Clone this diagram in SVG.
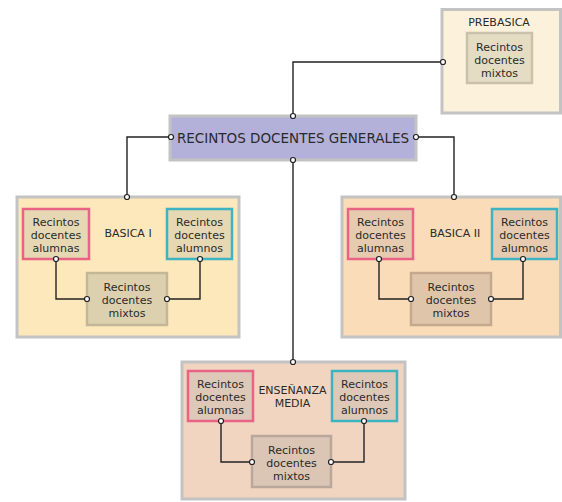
<svg xmlns="http://www.w3.org/2000/svg" width="562" height="502" viewBox="0 0 562 502">
<style>
text{font-family:"DejaVu Sans","Verdana",sans-serif;fill:#2a2a2a;text-anchor:middle}
.t11{font-size:11px}
.t13{font-size:13.5px}
.outer{stroke:#c3c3c3;stroke-width:3}
.ln{fill:none;stroke:#222;stroke-width:1.4}
.dot{fill:#fff;stroke:#222;stroke-width:1.2}
.pink{stroke:#e86384;stroke-width:2.5}
.teal{stroke:#3fb3c2;stroke-width:2.5}
</style>
<rect width="562" height="502" fill="#fff"/>

<g id="prebasica">
<rect x="442" y="9.5" width="118.5" height="103.5" fill="#fcf2dc" class="outer"/>
<text x="499" y="26" class="t11">PREBASICA</text>
<rect x="467" y="33" width="65" height="50" fill="#e5dcc4" stroke="#c9c1aa" stroke-width="2.5"/>
<text x="499.5" y="51" class="t11">Recintos</text>
<text x="499.5" y="64" class="t11">docentes</text>
<text x="499.5" y="77" class="t11">mixtos</text>
</g>

<g id="generales">
<rect x="170" y="116" width="246" height="44" fill="#b3b0d9" class="outer"/>
<text x="293" y="142.5" class="t13">RECINTOS DOCENTES GENERALES</text>
</g>

<g id="basica1">
<rect x="17" y="197" width="222" height="140" fill="#fde8bb" class="outer"/>
<text x="128" y="237" class="t11">BASICA I</text>
<rect x="23" y="209" width="66" height="50" fill="#e6d8b3" class="pink"/>
<text x="56" y="226" class="t11">Recintos</text>
<text x="56" y="239" class="t11">docentes</text>
<text x="56" y="252" class="t11">alumnas</text>
<rect x="167" y="209" width="65" height="50" fill="#e6d8b3" class="teal"/>
<text x="199.5" y="226" class="t11">Recintos</text>
<text x="199.5" y="239" class="t11">docentes</text>
<text x="199.5" y="252" class="t11">alumnos</text>
<rect x="87" y="273" width="80" height="52" fill="#ddd0ae" stroke="#c2b797" stroke-width="2.5"/>
<text x="127" y="291" class="t11">Recintos</text>
<text x="127" y="304" class="t11">docentes</text>
<text x="127" y="317" class="t11">mixtos</text>
</g>

<g id="basica2">
<rect x="342" y="197" width="218.5" height="140" fill="#fbdcb8" class="outer"/>
<text x="455" y="237" class="t11">BASICA II</text>
<rect x="348" y="209" width="65" height="50" fill="#e6cbb0" class="pink"/>
<text x="380.5" y="226" class="t11">Recintos</text>
<text x="380.5" y="239" class="t11">docentes</text>
<text x="380.5" y="252" class="t11">alumnas</text>
<rect x="492" y="209" width="65" height="50" fill="#e6cbb0" class="teal"/>
<text x="524.5" y="226" class="t11">Recintos</text>
<text x="524.5" y="239" class="t11">docentes</text>
<text x="524.5" y="252" class="t11">alumnos</text>
<rect x="411" y="273" width="80" height="52" fill="#dfc6aa" stroke="#c5a98f" stroke-width="2.5"/>
<text x="451" y="291" class="t11">Recintos</text>
<text x="451" y="304" class="t11">docentes</text>
<text x="451" y="317" class="t11">mixtos</text>
</g>

<g id="media">
<rect x="182" y="362" width="223" height="137" fill="#f1d5c1" class="outer"/>
<text x="292.5" y="394" class="t11">ENSEÑANZA</text>
<text x="292.5" y="407" class="t11">MEDIA</text>
<rect x="188" y="371" width="65" height="50" fill="#dec8b8" class="pink"/>
<text x="220.5" y="388" class="t11">Recintos</text>
<text x="220.5" y="401" class="t11">docentes</text>
<text x="220.5" y="414" class="t11">alumnas</text>
<rect x="332" y="371" width="65" height="50" fill="#dec8b8" class="teal"/>
<text x="364.5" y="388" class="t11">Recintos</text>
<text x="364.5" y="401" class="t11">docentes</text>
<text x="364.5" y="414" class="t11">alumnos</text>
<rect x="252" y="436" width="79" height="51" fill="#dbc5b5" stroke="#baa79b" stroke-width="2.5"/>
<text x="291.5" y="454" class="t11">Recintos</text>
<text x="291.5" y="467" class="t11">docentes</text>
<text x="291.5" y="480" class="t11">mixtos</text>
</g>

<g id="connectors">
<path class="ln" d="M293 116V62H443"/>
<path class="ln" d="M170 137H127V197"/>
<path class="ln" d="M416 137H454V197"/>
<path class="ln" d="M293 160V362"/>
<path class="ln" d="M56 259V299H87"/>
<path class="ln" d="M200 259V299H167"/>
<path class="ln" d="M379 259V299H411"/>
<path class="ln" d="M523 259V299H491"/>
<path class="ln" d="M221 421V462H252"/>
<path class="ln" d="M364 421V462H331"/>
<g class="dot">
<circle cx="293" cy="116" r="2.5"/>
<circle cx="443" cy="62" r="2.5"/>
<circle cx="171" cy="137" r="2.5"/>
<circle cx="127" cy="197" r="2.5"/>
<circle cx="416" cy="137" r="2.5"/>
<circle cx="454" cy="197" r="2.5"/>
<circle cx="293" cy="160" r="2.5"/>
<circle cx="293" cy="362" r="2.5"/>
<circle cx="56" cy="259" r="2.5"/>
<circle cx="87" cy="299" r="2.5"/>
<circle cx="200" cy="259" r="2.5"/>
<circle cx="167" cy="299" r="2.5"/>
<circle cx="379" cy="259" r="2.5"/>
<circle cx="411" cy="299" r="2.5"/>
<circle cx="523" cy="259" r="2.5"/>
<circle cx="491" cy="299" r="2.5"/>
<circle cx="221" cy="421" r="2.5"/>
<circle cx="252" cy="462" r="2.5"/>
<circle cx="364" cy="421" r="2.5"/>
<circle cx="331" cy="462" r="2.5"/>
</g>
</g>
</svg>
